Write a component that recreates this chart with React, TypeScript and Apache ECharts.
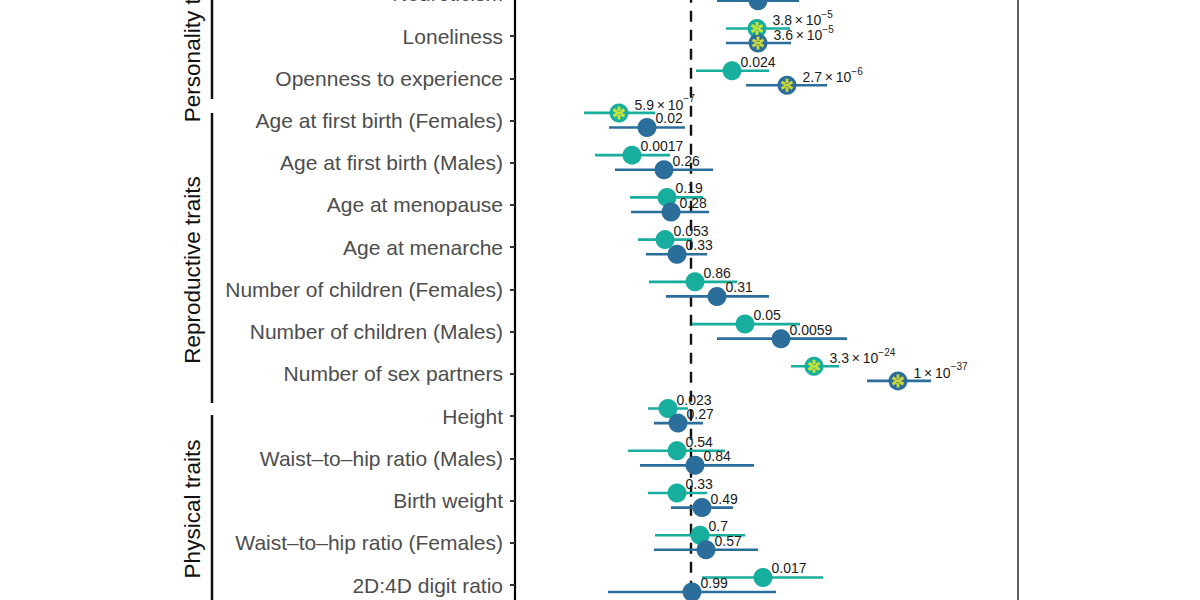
import React, { useEffect, useRef } from "react";
import * as echarts from "echarts";

// Rows, top to bottom
const categories = [
  "Neuroticism",
  "Loneliness",
  "Openness to experience",
  "Age at first birth (Females)",
  "Age at first birth (Males)",
  "Age at menopause",
  "Age at menarche",
  "Number of children (Females)",
  "Number of children (Males)",
  "Number of sex partners",
  "Height",
  "Waist–to–hip ratio (Males)",
  "Birth weight",
  "Waist–to–hip ratio (Females)",
  "2D:4D digit ratio",
];

// Teal estimates (upper point of each row)
const tealEst = [null, 0.066, 0.041, -0.072, -0.059, -0.024, -0.026, 0.004, 0.054, 0.123, -0.023, -0.014, -0.014, 0.009, 0.072];
const tealLo = [null, 0.035, 0.005, -0.107, -0.096, -0.061, -0.053, -0.042, 0.001, 0.1, -0.043, -0.063, -0.043, -0.036, 0.011];
const tealHi = [null, 0.099, 0.078, -0.036, -0.021, 0.012, 0.001, 0.046, 0.109, 0.148, -0.003, 0.034, 0.016, 0.054, 0.132];
const tealP = [null, 3.8e-5, 0.024, 5.9e-7, 0.0017, 0.19, 0.053, 0.86, 0.05, 3.3e-24, 0.023, 0.54, 0.33, 0.7, 0.017];

// Blue estimates (lower point of each row)
const blueEst = [0.067, 0.067, 0.096, -0.044, -0.027, -0.02, -0.014, 0.026, 0.09, 0.207, -0.013, 0.004, 0.011, 0.015, 0.001];
const blueLo = [0.026, 0.035, 0.055, -0.082, -0.076, -0.06, -0.045, -0.025, 0.026, 0.176, -0.037, -0.051, -0.02, -0.037, -0.083];
const blueHi = [0.108, 0.1, 0.136, -0.006, 0.022, 0.018, 0.016, 0.078, 0.156, 0.24, 0.012, 0.063, 0.042, 0.067, 0.085];
const blueP = [null, 3.6e-5, 2.7e-6, 0.02, 0.26, 0.28, 0.33, 0.31, 0.0059, 1e-37, 0.27, 0.84, 0.49, 0.57, 0.99];

const SIG_THRESHOLD = 5e-5;

const TEAL = "#17ae9d";
const BLUE = "#2b6e9b";
const YELLOW = "#f5f01e";
const FONT = "'Liberation Sans', Arial, Helvetica, sans-serif";

// the chart canvas extends beyond the visible page (cropped figure)
const OFF_TOP = 40;
const CANVAS_H = 680;

const ASTERISK =
  "path://M-1.4,-6L1.4,-6L1.4,6L-1.4,6Z" +
  "M4.496,4.213L5.896,1.787L-4.496,-4.213L-5.896,-1.787Z" +
  "M-5.896,1.787L-4.496,4.213L5.896,-1.787L4.496,-4.213Z";

function fmtP(p: number | null): string {
  if (p == null) return "";
  if (p < 1e-4) {
    const [m, e] = p.toExponential(1).split("e");
    const mant = String(Number(m));
    const ex = String(Number(e)).replace("-", "−");
    return `{m|${mant}\u2009×\u200910}{e|${ex}}`;
  }
  return `{m|${String(Number(p.toPrecision(2)))}}`;
}

const TEAL_SHIFT = -0.18;
const BLUE_SHIFT = 0.165;

function buildCI(est: (number | null)[], lo: (number | null)[], hi: (number | null)[], shift: number) {
  const out: number[][] = [];
  est.forEach((v, i) => {
    if (v == null || lo[i] == null || hi[i] == null) return;
    out.push([lo[i] as number, hi[i] as number, i + shift]);
  });
  return out;
}

function buildPoints(est: (number | null)[], p: (number | null)[], shift: number) {
  const out: any[] = [];
  est.forEach((v, i) => {
    if (v == null) return;
    const sci = p[i] != null && (p[i] as number) < 1e-4;
    out.push({
      value: [v, i + shift, i],
      label: { offset: sci ? [6, -10] : [-1, -11] },
    });
  });
  return out;
}

function buildStars(est: (number | null)[], p: (number | null)[], shift: number) {
  const out: number[][] = [];
  est.forEach((v, i) => {
    if (v == null || p[i] == null) return;
    if ((p[i] as number) < SIG_THRESHOLD) out.push([v, i + shift]);
  });
  return out;
}

function ciSeries(name: string, data: number[][], color: string, z: number) {
  return {
    type: "custom",
    name,
    xAxisIndex: 0,
    yAxisIndex: 1,
    z,
    silent: true,
    data,
    encode: { x: [0, 1], y: 2 },
    renderItem: (params: any, api: any) => {
      const a = api.coord([api.value(0), api.value(2)]);
      const b = api.coord([api.value(1), api.value(2)]);
      return {
        type: "line",
        shape: { x1: a[0], y1: a[1], x2: b[0], y2: b[1] },
        style: { stroke: color, lineWidth: 2.6 },
      };
    },
  };
}

const richLabel = {
  m: { fontSize: 14, color: "#1a1a1a", fontFamily: FONT, lineHeight: 18, verticalAlign: "bottom" },
  e: { fontSize: 10, color: "#1a1a1a", fontFamily: FONT, lineHeight: 10, verticalAlign: "top" },
};

function pointSeries(name: string, data: any[], color: string, pvals: (number | null)[], z: number) {
  return {
    type: "scatter",
    name,
    xAxisIndex: 0,
    yAxisIndex: 1,
    z,
    silent: true,
    symbol: "circle",
    symbolSize: 19,
    itemStyle: { color, opacity: 1 },
    data,
    label: {
      show: true,
      position: "right",
      distance: 0,
      formatter: (pr: any) => fmtP(pvals[pr.value[2]]),
      rich: richLabel,
    },
  };
}

const g = (y: number) => y + OFF_TOP;

export default function App() {
  const ref = useRef<HTMLDivElement>(null);

  useEffect(() => {
    if (!ref.current) return;
    const chart = echarts.init(ref.current, undefined, { renderer: "svg" });

    const gridTop = OFF_TOP - 27.3;
    const gridBottom = CANVAS_H - (OFF_TOP + 606.2);

    const option: any = {
      animation: false,
      backgroundColor: "#ffffff",
      grid: { left: 515, right: 182, top: gridTop, bottom: gridBottom, containLabel: false },
      xAxis: {
        type: "value",
        min: -0.176,
        max: 0.327,
        show: false,
        splitLine: { show: false },
      },
      yAxis: [
        {
          type: "category",
          data: categories,
          inverse: true,
          axisLine: { show: true, onZero: false, lineStyle: { color: "#000", width: 2.2 } },
          axisTick: { show: true, alignWithLabel: true, length: 5, lineStyle: { color: "#333", width: 2 } },
          axisLabel: { fontSize: 21, color: "#4d4d4d", margin: 12, fontFamily: FONT },
          splitLine: { show: false },
        },
        {
          type: "value",
          min: -0.5,
          max: 14.5,
          inverse: true,
          show: false,
          splitLine: { show: false },
        },
      ],
      series: [
        {
          type: "custom",
          name: "Null effect",
          xAxisIndex: 0,
          yAxisIndex: 1,
          z: 1,
          silent: true,
          data: [[0]],
          encode: { x: 0 },
          renderItem: (params: any, api: any) => {
            const a = api.coord([api.value(0), -0.5]);
            const b = api.coord([api.value(0), 14.5]);
            return {
              type: "line",
              shape: { x1: a[0], y1: a[1], x2: b[0], y2: b[1] },
              style: { stroke: "#111", lineWidth: 2.4, lineDash: [11, 8] },
            };
          },
        },
        ciSeries("Teal CI", buildCI(tealEst, tealLo, tealHi, TEAL_SHIFT), TEAL, 2),
        pointSeries("Teal", buildPoints(tealEst, tealP, TEAL_SHIFT), TEAL, tealP, 3),
        ciSeries("Blue CI", buildCI(blueEst, blueLo, blueHi, BLUE_SHIFT), BLUE, 4),
        pointSeries("Blue", buildPoints(blueEst, blueP, BLUE_SHIFT), BLUE, blueP, 5),
        {
          type: "scatter",
          name: "Significant (teal)",
          xAxisIndex: 0,
          yAxisIndex: 1,
          z: 6,
          silent: true,
          symbol: ASTERISK,
          symbolSize: [12.5, 13],
          itemStyle: { color: YELLOW },
          data: buildStars(tealEst, tealP, TEAL_SHIFT),
        },
        {
          type: "scatter",
          name: "Significant (blue)",
          xAxisIndex: 0,
          yAxisIndex: 1,
          z: 6,
          silent: true,
          symbol: ASTERISK,
          symbolSize: [12.5, 13],
          itemStyle: { color: YELLOW },
          data: buildStars(blueEst, blueP, BLUE_SHIFT),
        },
      ],
      graphic: [
        // group brackets
        { type: "line", shape: { x1: 212, y1: g(-30), x2: 212, y2: g(99) }, style: { stroke: "#111", lineWidth: 2.5 } },
        { type: "line", shape: { x1: 212, y1: g(113), x2: 212, y2: g(403) }, style: { stroke: "#111", lineWidth: 2.5 } },
        { type: "line", shape: { x1: 212, y1: g(415), x2: 212, y2: g(620) }, style: { stroke: "#111", lineWidth: 2.5 } },
        // group titles
        {
          type: "text",
          x: 192,
          y: g(39),
          rotation: Math.PI / 2,
          style: { text: "Personality traits", fontSize: 22.5, fill: "#111", fontFamily: FONT, textAlign: "center", textVerticalAlign: "middle" },
        },
        {
          type: "text",
          x: 192,
          y: g(270),
          rotation: Math.PI / 2,
          style: { text: "Reproductive traits", fontSize: 22.5, fill: "#111", fontFamily: FONT, textAlign: "center", textVerticalAlign: "middle" },
        },
        {
          type: "text",
          x: 192,
          y: g(509),
          rotation: Math.PI / 2,
          style: { text: "Physical traits", fontSize: 22.5, fill: "#111", fontFamily: FONT, textAlign: "center", textVerticalAlign: "middle" },
        },
        // right panel border
        { type: "line", shape: { x1: 1018, y1: g(-30), x2: 1018, y2: g(620) }, style: { stroke: "#5e5e5e", lineWidth: 2 } },
      ],
    };

    chart.setOption(option);
    return () => chart.dispose();
  }, []);

  return (
    <div style={{ position: "absolute", left: 0, top: 0, width: 1200, height: 600, overflow: "hidden", background: "#fff" }}>
      <div
        ref={ref}
        style={{ position: "absolute", left: 0, top: -OFF_TOP, width: 1200, height: CANVAS_H }}
      />
    </div>
  );
}
